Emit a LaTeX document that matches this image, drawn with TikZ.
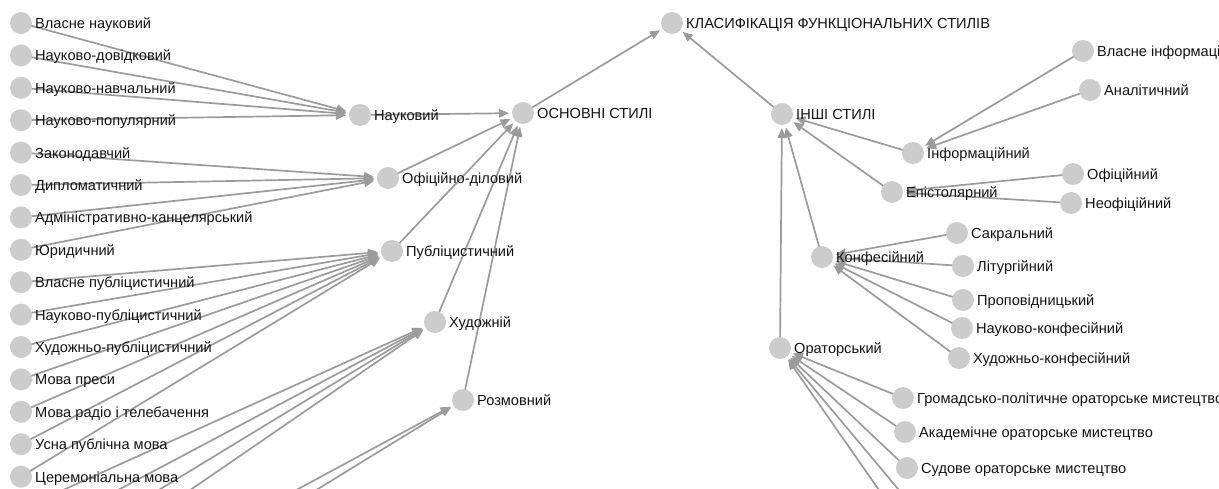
\documentclass[tikz,border=0pt]{standalone}
\usepackage{fontspec}
\setmainfont{Liberation Sans}
\usetikzlibrary{arrows.meta}
\pgfdeclarelayer{links}
\pgfsetlayers{links,main}
\definecolor{dotfill}{RGB}{204,204,204}
\definecolor{linkcol}{RGB}{155,155,155}
\definecolor{txt}{RGB}{20,20,20}

\begin{document}
\begin{tikzpicture}[x=1pt,y=-1pt,
  dot/.style={circle,fill=dotfill,minimum size=22pt,inner sep=0pt,outer sep=0pt},
  lbl/.style={font=\fontsize{14.6}{17}\selectfont,text=txt,inner sep=0pt,
              anchor=base west,xshift=3pt,yshift=-5.5pt},
  link/.style={draw=linkcol,line width=1.7pt,
               -{Triangle[length=10pt,width=8.5pt]},shorten >=3pt}]
\useasboundingbox (0,0) rectangle (1219,488);
\clip (0,0) rectangle (1219,488);

% leaf column of the main styles
\foreach \t [count=\i from 0] in {Власне науковий,Науково-довідковий,Науково-навчальний,
  Науково-популярний,Законодавчий,Дипломатичний,Адміністративно-канцелярський,
  Юридичний,Власне публіцистичний,Науково-публіцистичний,Художньо-публіцистичний,
  Мова преси,Мова радіо і телебачення,Усна публічна мова,Церемоніальна мова}
  \node[dot,label={[lbl]right:\t}] (l\i) at (21,{23+32.4*\i}) {};
% leaves continuing below the lower edge
\coordinate (h1) at (21,509);
\coordinate (h2) at (21,541.4);
\coordinate (h3) at (21,573.8);
\coordinate (h4) at (21,606.2);
\coordinate (r1) at (21,638.6);
\coordinate (r2) at (21,671);

% main styles
\node[dot,label={[lbl]right:Науковий}] (nauk) at (360,115) {};
\node[dot,label={[lbl]right:Офіційно-діловий}] (ofic) at (388,178) {};
\node[dot,label={[lbl]right:Публіцистичний}] (publ) at (392,251) {};
\node[dot,label={[lbl]right:Художній}] (hud) at (435,322) {};
\node[dot,label={[lbl]right:Розмовний}] (rozm) at (463,400) {};
\node[dot,label={[lbl]right:ОСНОВНІ СТИЛІ}] (osn) at (523,113) {};
\node[dot,label={[lbl]right:КЛАСИФІКАЦІЯ ФУНКЦІОНАЛЬНИХ СТИЛІВ}] (klas) at (672,23) {};

% other styles
\node[dot,label={[lbl]right:ІНШІ СТИЛІ}] (inshi) at (782,114) {};
\node[dot,label={[lbl]right:Інформаційний}] (inf) at (913,153) {};
\node[dot,label={[lbl]right:Епістолярний}] (epi) at (892,192) {};
\node[dot,label={[lbl]right:Конфесійний}] (konf) at (822,257) {};
\node[dot,label={[lbl]right:Ораторський}] (orat) at (780,348) {};
\node[dot,label={[lbl]right:Власне інформаційний}] (vinf) at (1083,51) {};
\node[dot,label={[lbl]right:Аналітичний}] (anal) at (1090,90) {};
\node[dot,label={[lbl]right:Офіційний}] (ofi) at (1073,174) {};
\node[dot,label={[lbl]right:Неофіційний}] (neof) at (1071,203) {};
\node[dot,label={[lbl]right:Сакральний}] (sakr) at (957,233) {};
\node[dot,label={[lbl]right:Літургійний}] (litu) at (963,266) {};
\node[dot,label={[lbl]right:Проповідницький}] (prop) at (963,300) {};
\node[dot,label={[lbl]right:Науково-конфесійний}] (nkonf) at (962,328) {};
\node[dot,label={[lbl]right:Художньо-конфесійний}] (hkonf) at (959,358) {};
\node[dot,label={[lbl]right:Громадсько-політичне ораторське мистецтво}] (grom) at (903,398) {};
\node[dot,label={[lbl]right:Академічне ораторське мистецтво}] (akad) at (905,432) {};
\node[dot,label={[lbl]right:Судове ораторське мистецтво}] (sud) at (907,468) {};
\coordinate (o4) at (909,502);
\coordinate (o5) at (911,536);

\begin{pgfonlayer}{links}
  \clip (0,0) rectangle (1219,488);
  \fill[white] (0,0) rectangle (1219,488);
  \foreach \i in {0,...,3} \draw[link] (l\i.center) -- (nauk);
  \foreach \i in {4,...,7} \draw[link] (l\i.center) -- (ofic);
  \foreach \i in {8,...,14} \draw[link] (l\i.center) -- (publ);
  \foreach \c in {h1,h2,h3,h4} \draw[link] (\c) -- (hud);
  \foreach \c in {r1,r2} \draw[link] (\c) -- (rozm);
  \foreach \c in {nauk,ofic,publ,hud,rozm} \draw[link] (\c.center) -- (osn);
  \draw[link] (osn.center) -- (klas);
  \draw[link] (inshi.center) -- (klas);
  \foreach \c in {inf,epi,konf,orat} \draw[link] (\c.center) -- (inshi);
  \foreach \c in {vinf,anal} \draw[link] (\c.center) -- (inf);
  \foreach \c in {ofi,neof} \draw[link] (\c.center) -- (epi);
  \foreach \c in {sakr,litu,prop,nkonf,hkonf} \draw[link] (\c.center) -- (konf);
  \foreach \c in {grom,akad,sud} \draw[link] (\c.center) -- (orat);
  \foreach \c in {o4,o5} \draw[link] (\c) -- (orat);
\end{pgfonlayer}
\end{tikzpicture}
\end{document}
